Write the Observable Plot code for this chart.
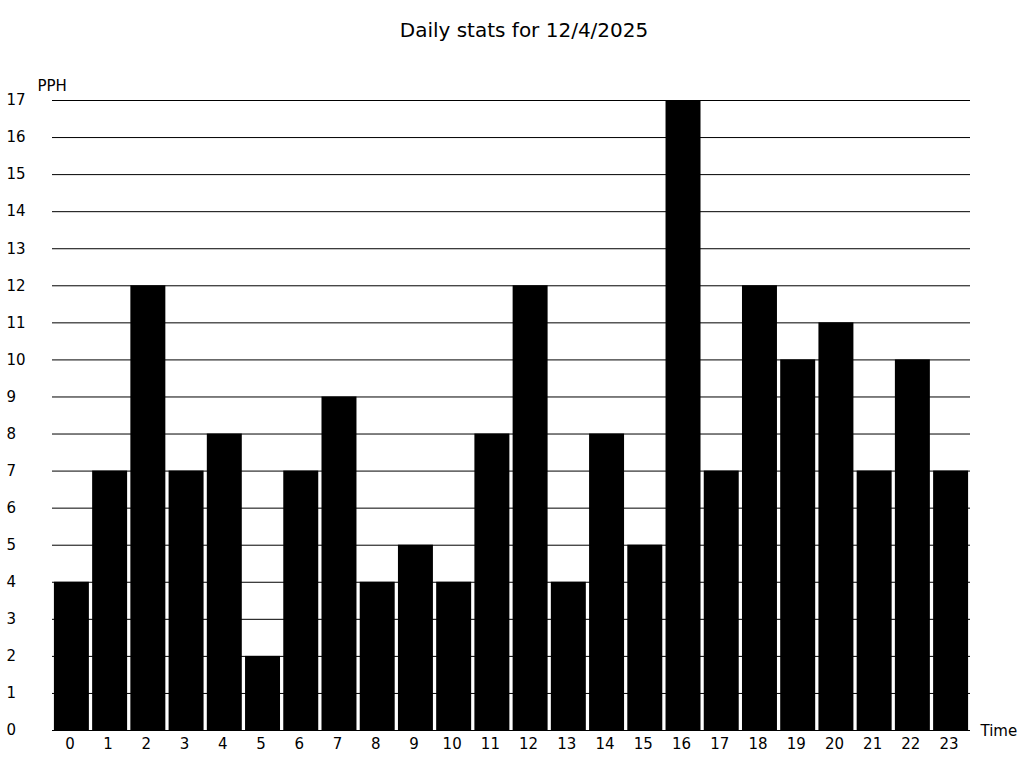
<!DOCTYPE html>
<html>
<head>
<meta charset="utf-8">
<script src="https://cdn.jsdelivr.net/npm/d3@7"></script>
<script src="https://cdn.jsdelivr.net/npm/@observablehq/plot@0.6"></script>
<style>
body{margin:0;background:#fff;font-family:"DejaVu Sans",sans-serif;}
#title{height:60px;line-height:60px;text-align:center;font-size:20px;color:#000;padding-left:24px;width:1000px;}
#chart svg{display:block;}
</style>
</head>
<body>
<div id="title">Daily stats for 12/4/2025</div>
<div id="chart"></div>
<script>
const hours = [0,1,2,3,4,5,6,7,8,9,10,11,12,13,14,15,16,17,18,19,20,21,22,23];
const pph = [4,7,12,7,8,2,7,9,4,5,4,8,12,4,8,5,17,7,12,10,11,7,10,7];
const yTicks = d3.range(0,18);
const data = hours.map((h,i)=>({hour:h, pph:pph[i]}));

const chart = Plot.plot({
  width: 1024,
  height: 708,
  marginTop: 40,
  marginBottom: 38,
  marginLeft: 52,
  marginRight: 54,
  style: {fontFamily: "DejaVu Sans, sans-serif", fontSize: "15px", color: "#000", background: "#fff"},
  x: {type: "band", domain: hours, paddingInner: 0.085, paddingOuter: 0.05, round: false},
  y: {domain: [0,17]},
  marks: [
    Plot.gridY(yTicks, {stroke: "#000", strokeOpacity: 1, strokeWidth: 1}),
    Plot.barY(data, {x: "hour", y: "pph", fill: "#000"}),
    Plot.axisY(yTicks, {tickSize: 0, textAnchor: "start", dx: -37, label: null, fontSize: 15}),
    Plot.axisX(hours, {tickSize: 0, tickPadding: 8, dx: -2, label: null, fontSize: 15}),
    Plot.text(["PPH"], {frameAnchor: "top-left", dx: -15, dy: -20, textAnchor: "start", fontSize: 15}),
    Plot.text(["Time"], {frameAnchor: "bottom-right", dx: 10, dy: 5, textAnchor: "start", fontSize: 15})
  ]
});
document.getElementById("chart").appendChild(chart);
</script>
</body>
</html>
